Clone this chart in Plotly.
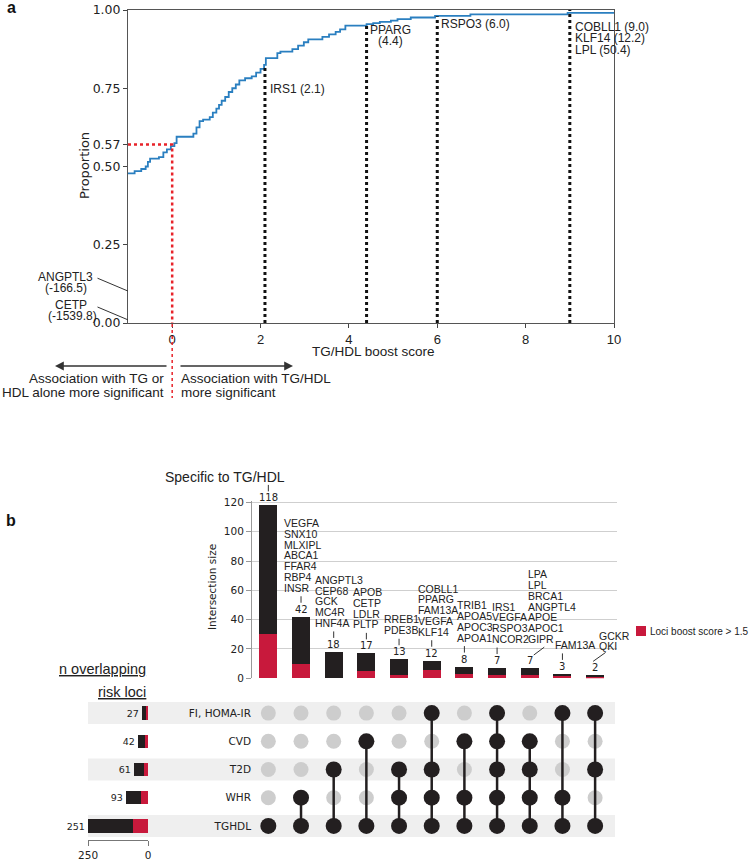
import plotly.graph_objects as go

W, H = 749, 867

# ---------------- Panel a data ----------------
ecdf_x = [-1.0, -0.85, -0.70, -0.60, -0.55, -0.50, -0.30, -0.20, -0.12, -0.03, 0.05, 0.10, 0.48, 0.55,
          0.62, 0.70, 0.85, 0.92, 1.00, 1.06, 1.12, 1.20, 1.28, 1.36, 1.44, 1.52, 1.65, 1.80, 1.90,
          2.00, 2.08, 2.12, 2.38, 2.45, 2.72, 2.85, 2.98, 3.08, 3.40, 3.55, 3.70, 3.80, 3.92, 4.40,
          4.55, 4.70, 4.95, 5.10, 5.40, 5.95, 6.75, 8.95, 10.0]
ecdf_y = [0.478, 0.485, 0.492, 0.500, 0.515, 0.525, 0.530, 0.545, 0.555, 0.565, 0.575, 0.595, 0.605, 0.625,
          0.645, 0.650, 0.658, 0.672, 0.685, 0.697, 0.710, 0.722, 0.738, 0.750, 0.762, 0.775, 0.782, 0.788, 0.800,
          0.812, 0.825, 0.846, 0.862, 0.867, 0.875, 0.886, 0.897, 0.906, 0.914, 0.922, 0.930, 0.938, 0.950, 0.955,
          0.958, 0.962, 0.966, 0.971, 0.976, 0.981, 0.986, 0.991, 0.991]
threshold_x = 0.0
threshold_y = 0.57
marker_x = [2.1, 4.4, 6.0, 9.0]
marker_top = [0.815, 0.955, 0.98, 1.0]
marker_labels = [["IRS1 (2.1)"], ["PPARG", "(4.4)"], ["RSPO3 (6.0)"],
                 ["COBLL1 (9.0)", "KLF14 (12.2)", "LPL (50.4)"]]
neg_labels = [["ANGPTL3", "(-166.5)"], ["CETP", "(-1539.8)"]]
neg_y = [0.102, 0.01]
a_xticks = [0, 2, 4, 6, 8, 10]
a_yticks = [0, 0.25, 0.5, 0.57, 0.75, 1.0]
a_yticktext = ["0.00", "0.25", "0.50", "0.57", "0.75", "1.00"]

# ---------------- Panel b data ----------------
inter_sizes = [118, 42, 18, 17, 13, 12, 8, 7, 7, 3, 2]
inter_boost = [30, 10, 0, 5, 2, 6, 3, 2, 2, 2, 1]
inter_genes = [[],
               ["VEGFA", "SNX10", "MLXIPL", "ABCA1", "FFAR4", "RBP4", "INSR"],
               ["ANGPTL3", "CEP68", "GCK", "MC4R", "HNF4A"],
               ["APOB", "CETP", "LDLR", "PLTP"],
               ["RREB1", "PDE3B"],
               ["COBLL1", "PPARG", "FAM13A", "VEGFA", "KLF14"],
               ["TRIB1", "APOA5", "APOC3", "APOA1"],
               ["IRS1", "VEGFA", "RSPO3", "NCOR2"],
               ["LPA", "LPL", "BRCA1", "ANGPTL4", "APOE", "APOC1", "GIPR"],
               ["FAM13A"],
               ["GCKR", "QKI"]]
set_names = ["TGHDL", "WHR", "T2D", "CVD", "FI, HOMA-IR"]   # bottom -> top
set_sizes = [251, 93, 61, 42, 27]
set_boost = [65, 28, 16, 15, 10]
membership = [["TGHDL"],
              ["TGHDL", "WHR"],
              ["TGHDL", "T2D"],
              ["TGHDL", "CVD"],
              ["TGHDL", "WHR", "T2D"],
              ["TGHDL", "WHR", "T2D", "FI, HOMA-IR"],
              ["TGHDL", "WHR", "CVD"],
              ["TGHDL", "WHR", "T2D", "CVD", "FI, HOMA-IR"],
              ["TGHDL", "WHR", "T2D", "CVD"],
              ["TGHDL", "WHR", "FI, HOMA-IR"],
              ["TGHDL", "T2D", "FI, HOMA-IR"]]
b_yticks = [0, 20, 40, 60, 80, 100, 120]
left_ticks = [250, 0]

# ---------------- styles ----------------
BLUE = "#2a7fc0"
RED = "#c8193c"
BLACK = "#231f20"
GRAYDOT = "#cdcdcd"
BAND = "#efefef"
DJ = "DejaVu Sans, sans-serif"
AR = "Liberation Sans, Arial, sans-serif"
TXT = "#222222"

# label offsets (layout only)
marker_dx = [3, 24, 2, 3]
marker_anchor = ["left", "center", "left", "left"]
marker_dy0 = [21, 6, 8, 17]
gene_dx = [0, -19, -21, -15, -17, -16, -9, -7, -4, -9, 2]
slash_bars = {8: (4, 13, 12, -9), 10: (-2, 14, 14, -10)}


def px(xp):
    return xp / W


def py(yp):
    return 1 - yp / H


def paper_text(xp, yp, text, font, xanchor="center", yanchor="middle", **kw):
    d = dict(x=px(xp), y=py(yp), xref="paper", yref="paper", text=text, showarrow=False,
             xanchor=xanchor, yanchor=yanchor, font=font)
    d.update(kw)
    return d


fig = go.Figure()
ann = []
shapes = []

# ---- panel a traces ----
fig.add_trace(go.Scatter(x=ecdf_x, y=ecdf_y, mode="lines", line=dict(color=BLUE, width=1.8, shape="hv"),
                         xaxis="x", yaxis="y", hoverinfo="skip", showlegend=False))
fig.add_trace(go.Scatter(x=[ecdf_x[0], threshold_x, threshold_x], y=[threshold_y, threshold_y, 0],
                         mode="lines", line=dict(color="#e8232a", width=2.5, dash="dot"),
                         xaxis="x", yaxis="y", hoverinfo="skip", showlegend=False))
vx, vy = [], []
for mx, mt in zip(marker_x, marker_top):
    vx += [mx, mx, None]
    vy += [0, mt, None]
fig.add_trace(go.Scatter(x=vx, y=vy, mode="lines", line=dict(color="#111111", width=3, dash="dot"),
                         xaxis="x", yaxis="y", hoverinfo="skip", showlegend=False))

for i, lines in enumerate(marker_labels):
    for k, t in enumerate(lines):
        ann.append(dict(x=marker_x[i], y=marker_top[i], xref="x", yref="y", text=t, showarrow=False,
                        xanchor=marker_anchor[i], yanchor="middle", xshift=marker_dx[i],
                        yshift=-(marker_dy0[i] + 11.3 * k), font=dict(family=AR, size=12, color=TXT)))

neg_text_dx = [[-63, -62], [-57, -56]]
neg_text_dy = [[14, 3], [15, 4]]
for i, lines in enumerate(neg_labels):
    ann.append(dict(x=-1, y=neg_y[i], xref="x", yref="y", text="", showarrow=True, arrowhead=0,
                    arrowwidth=1, arrowcolor="#333", ax=-32, ay=-13.5, standoff=0))
    for k, t in enumerate(lines):
        ann.append(dict(x=-1, y=neg_y[i], xref="x", yref="y", text=t, showarrow=False,
                        xanchor="center", yanchor="middle", xshift=neg_text_dx[i][k],
                        yshift=neg_text_dy[i][k], font=dict(family=AR, size=12, color=TXT)))

# red dotted continuation below axis
shapes.append(dict(type="line", xref="x", yref="paper", x0=threshold_x, x1=threshold_x,
                   y0=py(324), y1=py(398), line=dict(color="#e8232a", width=1.5, dash="dot")))

# axis titles & arrows for panel a
ann.append(paper_text(373, 352, "TG/HDL boost score", dict(family=AR, size=13.5, color=TXT)))
ann.append(paper_text(85, 166, "Proportion", dict(family=DJ, size=13, color=TXT), textangle=-90))
ann.append(dict(x=px(55), y=py(366), xref="paper", yref="paper", text="", showarrow=True, arrowhead=2,
                arrowsize=1.1, arrowwidth=1.6, arrowcolor="#333", ax=113, ay=0, standoff=0))
ann.append(dict(x=px(293), y=py(366), xref="paper", yref="paper", text="", showarrow=True, arrowhead=2,
                arrowsize=1.1, arrowwidth=1.6, arrowcolor="#333", ax=-114, ay=0, standoff=0))
for t, yy in [("Association with TG or", 379), ("HDL alone more significant", 392)]:
    ann.append(paper_text(166, yy, t, dict(family=AR, size=13.5, color=TXT), xanchor="right"))
for t, yy in [("Association with TG/HDL", 379), ("more significant", 392)]:
    ann.append(paper_text(179, yy, t, dict(family=AR, size=13.5, color=TXT), xanchor="left"))

# panel letters
ann.append(paper_text(11, 7, "<b>a</b>", dict(family=AR, size=16, color="#111")))
ann.append(paper_text(11, 520, "<b>b</b>", dict(family=AR, size=16, color="#111")))

# ---- panel b: intersection bars ----
cols = list(range(len(inter_sizes)))
fig.add_trace(go.Bar(x=cols, y=inter_boost, marker=dict(color=RED, line=dict(width=0)), width=0.55,
                     xaxis="x2", yaxis="y2", showlegend=False, hoverinfo="skip"))
fig.add_trace(go.Bar(x=cols, y=[s - b for s, b in zip(inter_sizes, inter_boost)],
                     marker=dict(color=BLACK, line=dict(width=0)), width=0.55,
                     xaxis="x2", yaxis="y2", showlegend=False, hoverinfo="skip"))

for i, n in enumerate(inter_sizes):
    ann.append(dict(x=i, y=n, xref="x2", yref="y2", text=str(n), showarrow=False, xanchor="center",
                    yanchor="middle", yshift=7.5, font=dict(family=DJ, size=10, color=TXT)))
    if i in slash_bars:
        dx, dy, axv, ayv = slash_bars[i]
        ann.append(dict(x=i, y=n, xref="x2", yref="y2", text="", showarrow=True, arrowhead=0,
                        arrowwidth=1, arrowcolor="#333", ax=axv, ay=ayv, xshift=dx, yshift=dy, standoff=0))
    else:
        ann.append(dict(x=i, y=n, xref="x2", yref="y2", text="", showarrow=True, arrowhead=0,
                        arrowwidth=1, arrowcolor="#333", ax=0, ay=-8, yshift=14, standoff=0))
    for k, g in enumerate(reversed(inter_genes[i])):
        ann.append(dict(x=i, y=n, xref="x2", yref="y2", text=g, showarrow=False, xanchor="left",
                        yanchor="middle", xshift=gene_dx[i], yshift=29 + 10.8 * k,
                        font=dict(family=AR, size=10.5, color=TXT)))

ann.append(dict(x=0, y=inter_sizes[0], xref="x2", yref="y2", text="Specific to TG/HDL", showarrow=False,
                xanchor="center", yanchor="middle", xshift=-43, yshift=28.5,
                font=dict(family=AR, size=14, color=TXT)))
ann.append(paper_text(212, 587, "Intersection size", dict(family=DJ, size=10.5, color=TXT), textangle=-90))

# legend
shapes.append(dict(type="rect", xref="paper", yref="paper", x0=px(636), x1=px(646), y0=py(636), y1=py(626),
                   fillcolor=RED, line=dict(width=0)))
ann.append(paper_text(648, 631, "Loci boost score > 1.5", dict(family=AR, size=10, color=TXT),
                      xanchor="left"))

# ---- matrix ----
for r in range(0, len(set_names), 2):
    shapes.append(dict(type="rect", xref="paper", yref="y3", x0=px(88), x1=px(615), y0=r - 0.39, y1=r + 0.39,
                       fillcolor=BAND, line=dict(width=0), layer="below"))

gx, gy, bx, by, lx, ly = [], [], [], [], [], []
for c, mem in enumerate(membership):
    rows_in = [set_names.index(m) for m in mem]
    for r in range(len(set_names)):
        if r in rows_in:
            bx.append(c); by.append(r)
        else:
            gx.append(c); gy.append(r)
    if len(rows_in) > 1:
        lx += [c, c, None]
        ly += [min(rows_in), max(rows_in), None]
fig.add_trace(go.Scatter(x=gx, y=gy, mode="markers", marker=dict(color=GRAYDOT, size=15, line=dict(width=0)),
                         xaxis="x3", yaxis="y3", showlegend=False, hoverinfo="skip"))
fig.add_trace(go.Scatter(x=lx, y=ly, mode="lines", line=dict(color=BLACK, width=2.5),
                         xaxis="x3", yaxis="y3", showlegend=False, hoverinfo="skip"))
fig.add_trace(go.Scatter(x=bx, y=by, mode="markers", marker=dict(color=BLACK, size=16, line=dict(width=0)),
                         xaxis="x3", yaxis="y3", showlegend=False, hoverinfo="skip"))

# ---- left set-size bars ----
rows = list(range(len(set_names)))
fig.add_trace(go.Bar(y=rows, x=set_boost, orientation="h", marker=dict(color=RED, line=dict(width=0)),
                     width=0.48, xaxis="x4", yaxis="y4", showlegend=False, hoverinfo="skip"))
fig.add_trace(go.Bar(y=rows, x=[s - b for s, b in zip(set_sizes, set_boost)], orientation="h",
                     marker=dict(color=BLACK, line=dict(width=0)), width=0.48, xaxis="x4", yaxis="y4",
                     text=[str(s) for s in set_sizes], textposition="outside", cliponaxis=False,
                     textfont=dict(family=DJ, size=9.5, color=TXT), showlegend=False, hoverinfo="skip"))
ann.append(paper_text(148, 669, "<u>n overlapping</u>", dict(family=AR, size=14.5, color=TXT), xanchor="right"))
ann.append(paper_text(148, 692, "<u>risk loci</u>", dict(family=AR, size=14.5, color=TXT), xanchor="right"))

common = dict(automargin=False, zeroline=False)
fig.update_layout(
    template="none",
    width=W, height=H, autosize=False, margin=dict(l=0, r=0, t=0, b=0, pad=0),
    paper_bgcolor="white", plot_bgcolor="rgba(0,0,0,0)", barmode="stack", bargap=0,
    showlegend=False, annotations=ann, shapes=shapes,
    font=dict(family=AR, color=TXT),
    xaxis=dict(domain=[px(128), px(614)], range=[-1, 10], anchor="y", tickvals=a_xticks,
               ticks="outside", ticklen=4, tickcolor="#444", showline=True, mirror=True,
               linecolor="#555", linewidth=1, showgrid=False,
               tickfont=dict(family=AR, size=13, color=TXT), **common),
    yaxis=dict(domain=[py(323), py(10)], range=[0, 1], anchor="x", tickvals=a_yticks,
               ticktext=a_yticktext, ticks="outside", ticklen=4, tickcolor="#444", showline=True,
               mirror=True, linecolor="#555", linewidth=1, showgrid=False,
               tickfont=dict(family=DJ, size=12.5, color=TXT), **common),
    xaxis2=dict(domain=[px(252), px(617)], range=[-0.5, 10.67], anchor="y2", showticklabels=False,
                ticks="", showgrid=False, showline=False, **common),
    yaxis2=dict(domain=[py(678.3), py(501)], range=[0, 121], anchor="x2", tickvals=b_yticks,
                ticks="outside", ticklen=5, tickcolor="#999", showline=True, linecolor="#999",
                showgrid=True, gridcolor="#cfcfcf", gridwidth=1,
                tickfont=dict(family=DJ, size=10.5, color=TXT), **common),
    xaxis3=dict(domain=[px(252), px(617)], matches="x2", anchor="y3", showticklabels=False,
                ticks="", showgrid=False, showline=False, **common),
    yaxis3=dict(domain=[py(840), py(699)], range=[-0.5, 4.5], anchor="x3", tickvals=rows,
                ticktext=set_names, ticks="", showgrid=False, showline=False,
                tickfont=dict(family=DJ, size=10.5, color=TXT), **common),
    xaxis4=dict(domain=[px(87.8), px(148)], range=[251, 0], anchor="y4", tickvals=left_ticks,
                ticks="outside", ticklen=5, tickcolor="#777", showline=True, linecolor="#777",
                showgrid=True, gridcolor="#c8c8c8",
                tickfont=dict(family=DJ, size=10.5, color=TXT), **common),
    yaxis4=dict(domain=[py(840), py(699)], matches="y3", anchor="x4", showticklabels=False,
                ticks="", showgrid=False, showline=False, **common),
)

fig.write_html("out.html", config={"displayModeBar": False},
               post_script="document.body.style.margin='0px';document.body.style.padding='0px';")
